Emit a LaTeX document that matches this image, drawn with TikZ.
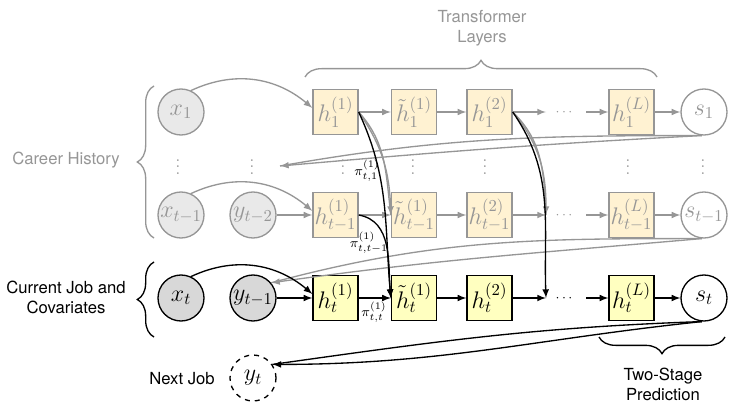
\documentclass[tikz,border=0pt]{standalone}
\usepackage{fontspec}
\setsansfont{TeX Gyre Heros}
\usetikzlibrary{decorations.pathreplacing}
\definecolor{fade}{RGB}{150,150,150}
\definecolor{paleh}{RGB}{255,242,210}
\definecolor{curh}{RGB}{255,255,192}
\definecolor{palev}{RGB}{233,233,233}
\definecolor{curv}{RGB}{216,216,216}

\begin{document}
\begin{tikzpicture}[x=0.6pt,y=-0.6pt,thick,>=latex,
  hbox/.style={draw,rectangle,minimum size=27pt,inner sep=0pt,font=\Large},
  var/.style={draw,circle,minimum size=27.6pt,inner sep=0pt,font=\Large},
  old/.style={draw=fade,text=fade},
  dotsn/.style={font=\footnotesize,inner xsep=8pt,inner ysep=0pt},
  lbl/.style={font=\sffamily,align=center},
  wt/.style={font=\footnotesize,inner sep=0pt},
  brc/.style={decorate,decoration={brace,amplitude=10pt}}]

\useasboundingbox (0,0) rectangle (747,411);

%% first step of the history
\node[var,old,fill=palev](x1)at(181,112){$x_1$};
\node[hbox,old,fill=paleh](h11)at(335.5,112){$h_1^{(1)}$};
\node[hbox,old,fill=paleh](g11)at(414,112){$\tilde{h}_1^{(1)}$};
\node[hbox,old,fill=paleh](h12)at(489.5,112){$h_1^{(2)}$};
\coordinate(j1)at(546,112);
\node[dotsn,text=fade](d1)at(564,112){$\cdots$};
\node[hbox,old,fill=paleh](h1L)at(631.5,112){$h_1^{(L)}$};
\node[var,old](s1)at(704,112){$s_1$};
\coordinate(b1)at(280,166);

\foreach \x in {178,252,343,413,485,628,703}
  \node[text=fade](v\x)at(\x,162){$\vdots$};

%% step t-1
\node[var,old,fill=palev](xp)at(181,215){$x_{t-1}$};
\node[var,old,fill=palev](yp)at(253,215){$y_{t-2}$};
\node[hbox,old,fill=paleh](hp1)at(335.5,215){$h_{t-1}^{(1)}$};
\node[hbox,old,fill=paleh](gp1)at(414,215){$\tilde{h}_{t-1}^{(1)}$};
\node[hbox,old,fill=paleh](hp2)at(489.5,215){$h_{t-1}^{(2)}$};
\coordinate(jp)at(546,215);
\node[dotsn,text=fade](dp)at(564,215){$\cdots$};
\node[hbox,old,fill=paleh](hpL)at(631.5,215){$h_{t-1}^{(L)}$};
\node[var,old](sp)at(704,215){$s_{t-1}$};

%% current step t
\node[var,fill=curv](xt)at(181,298){$x_t$};
\node[var,fill=curv](yt)at(253,298){$y_{t-1}$};
\node[hbox,fill=curh](ht1)at(335.5,298){$h_t^{(1)}$};
\node[hbox,fill=curh](gt1)at(414,298){$\tilde{h}_t^{(1)}$};
\node[hbox,fill=curh](ht2)at(489.5,298){$h_t^{(2)}$};
\coordinate(jt)at(546,298);
\node[dotsn](dt)at(564,298){$\cdots$};
\node[hbox,fill=curh](htL)at(631.5,298){$h_t^{(L)}$};
\node[var,fill=white](st)at(704,298){$s_t$};

\node[var,dashed](yn)at(253,378){$y_t$};

%% gray arrows
\draw[fade,->](x1.65)to[out=25,in=140](h11.170);
\draw[fade,->](h11)--(g11);
\draw[fade,->](g11)--(h12);
\draw[fade,->](h12)--(j1);
\draw[fade,->](d1)--(h1L);
\draw[fade,->](h1L)--(s1);
\draw[fade](s1.265)to[out=180,in=10](b1);
\draw[fade,->](s1.265)to[out=183,in=5](b1);

\draw[fade,->](xp.65)to[out=25,in=140](hp1.170);
\draw[fade,->](yp)--(hp1);
\draw[fade,->](hp1)--(gp1);
\draw[fade,->](gp1)--(hp2);
\draw[fade,->](hp2)--(jp);
\draw[fade,->](dp)--(hpL);
\draw[fade,->](hpL)--(sp);
\draw[fade](sp.265)to[out=180,in=15](yt.40);
\draw[fade,->](sp.265)to[out=185,in=8](yt.40);

\draw[fade](h11.east)to[out=-48,in=97](gp1.west);
\draw[fade,->](h11.east)to[out=-55,in=92](gp1.west);
\draw[fade](h12.east)to[out=-44,in=93](jp);
\draw[fade,->](h12.east)to[out=-50,in=90](jp);

%% black arrows
\draw[->](xt.65)to[out=25,in=140](ht1.170);
\draw[->](yt)--(ht1);
\draw[->](ht1)--(gt1);
\draw[->](gt1)--(ht2);
\draw[->](ht2)--(jt);
\draw[->](dt)--(htL);
\draw[->](htL)--(st);
\draw(st.265)to[out=182,in=8](yn.35);
\draw[->](st.265)to[out=186,in=0](yn.35);

\draw[->](h11.east)to[out=-65,in=95](gt1.west);
\draw[->](hp1.east)to[out=-10,in=95](gt1.west);
\draw[->](h12.east)to[out=-55,in=92](jt);

\node[wt](p1)at(367,171){$\pi^{(1)}_{t,1}$};
\node[wt](p2)at(369,243){$\pi^{(1)}_{t,t-1}$};
\node[wt](p3)at(374,312){$\pi^{(1)}_{t,t}$};

%% braces and texts
\draw[fade,brc](154,238)--(154,86);
\draw[brc](154,337)--(154,262);
\draw[fade,brc](305,77)--(657,77);
\draw[brc](725,337)--(599,337);

\node[lbl,text=fade](hist)at(66,160){Career History};
\node[lbl](cur)at(66,297){Current Job and\\Covariates};
\node[lbl,text=fade](layers)at(482,28){Transformer\\Layers};
\node[lbl](pred)at(663,384){Two-Stage\\Prediction};
\node[lbl](next)at(182,379){Next Job};
\end{tikzpicture}
\end{document}
